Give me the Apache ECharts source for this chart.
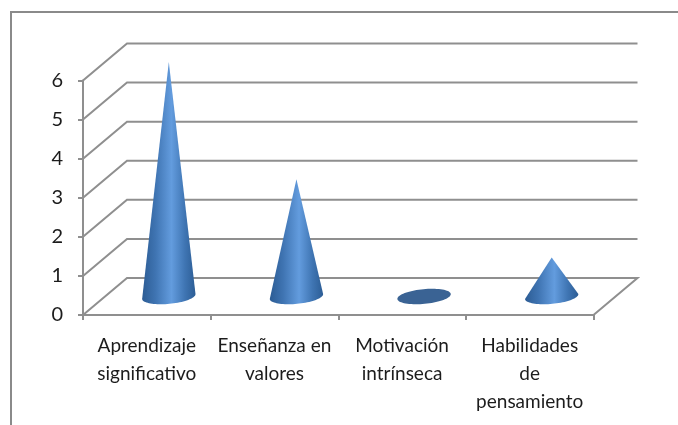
<!DOCTYPE html>
<html>
<head>
<meta charset="utf-8">
<style>html,body{margin:0;padding:0;background:#fff}#c{width:678px;height:425px}</style>
<script src="https://cdn.jsdelivr.net/npm/echarts@6/dist/echarts.min.js"></script>
</head>
<body>
<div id="c"></div>
<script>
const categories = ["Aprendizaje\nsignificativo", "Enseñanza en\nvalores", "Motivación\nintrínseca", "Habilidades\nde\npensamiento"];
const values = [6, 3, 0, 1];
const yTicks = [0, 1, 2, 3, 4, 5, 6];

const depthX = 44, depthY = 37;
const lineGray = "#8f8f8f";
const tilt = 5.4 * Math.PI / 180;
const coneFill = {
  type: "linear", x: 0, y: 0, x2: 1, y2: 0,
  colorStops: [
    { offset: 0, color: "#2c5c94" },
    { offset: 0.25, color: "#3f74b2" },
    { offset: 0.55, color: "#639cde" },
    { offset: 0.8, color: "#3f75b3" },
    { offset: 1, color: "#2c5d95" }
  ]
};

function ellipsePoint(cx, cy, a, b, t) {
  return [
    cx + a * Math.cos(t) * Math.cos(tilt) + b * Math.sin(t) * Math.sin(tilt),
    cy - a * Math.cos(t) * Math.sin(tilt) + b * Math.sin(t) * Math.cos(tilt)
  ];
}

function renderWall(params, api) {
  const g = params.coordSys;
  const y = api.coord([0, api.value(1)])[1];
  const left = g.x, right = g.x + g.width;
  const points = api.value(1) === 0
    ? [[left, y], [left + depthX, y - depthY], [right + depthX, y - depthY], [right, y]]
    : [[left, y], [left + depthX, y - depthY], [right + depthX, y - depthY]];
  return {
    type: "polyline",
    shape: { points: points },
    style: { fill: "none", stroke: lineGray, lineWidth: 2 }
  };
}

function renderCone(params, api) {
  const base = api.coord([api.value(0), 0]);
  const top = api.coord([api.value(0), api.value(1)]);
  const band = api.size([1, 0])[0];
  const cx = base[0] + depthX / 2, cy = base[1] - depthY / 2;
  const a = band * 0.21, b = a * 0.275;
  const pts = [];
  if (api.value(1) === 0) {
    for (let i = 0; i < 72; i++) pts.push(ellipsePoint(cx, cy, a, b, i / 72 * 2 * Math.PI));
    return { type: "polygon", shape: { points: pts }, style: { fill: "#3a6394" } };
  }
  for (let i = 0; i <= 40; i++) pts.push(ellipsePoint(cx, cy, a, b, i / 40 * Math.PI));
  pts.push([cx, top[1] - depthY / 2]);
  return { type: "polygon", shape: { points: pts }, style: { fill: coneFill } };
}

const chart = echarts.init(document.getElementById("c"), null, { renderer: "canvas" });
chart.setOption({
  animation: false,
  backgroundColor: "#ffffff",
  textStyle: { fontFamily: "Lato" },
  graphic: [{
    type: "polyline",
    silent: true,
    shape: { points: [[11, 425], [11, 12], [678, 12]] },
    style: { fill: "none", stroke: "#8a8a8a", lineWidth: 2 }
  }],
  grid: { left: 83, right: 84.5, top: 80.5, bottom: 110, containLabel: false },
  xAxis: {
    type: "category",
    data: categories,
    axisLine: { show: true, lineStyle: { color: lineGray, width: 2 } },
    axisTick: { show: true, length: 5, alignWithLabel: false, lineStyle: { color: lineGray, width: 2 } },
    axisLabel: { interval: 0, color: "#1c1c1c", fontSize: 19, fontFamily: "Lato", lineHeight: 28, margin: 17, hideOverlap: false },
    splitLine: { show: false }
  },
  yAxis: {
    type: "value",
    min: 0,
    max: 6,
    interval: 1,
    axisLine: { show: true, lineStyle: { color: lineGray, width: 2 } },
    axisTick: { show: true, length: 5, lineStyle: { color: lineGray, width: 2 } },
    axisLabel: { color: "#1c1c1c", fontSize: 20, fontFamily: "Lato", margin: 20, padding: [3, 0, 0, 0] },
    splitLine: { show: false }
  },
  series: [
    {
      type: "custom", name: "walls", z: 1, silent: true,
      renderItem: renderWall,
      encode: { x: 0, y: 1 },
      data: yTicks.map(t => [0, t])
    },
    {
      type: "custom", name: "valores", z: 3,
      renderItem: renderCone,
      encode: { x: 0, y: 1 },
      data: values.map((v, i) => [i, v])
    }
  ]
});
</script>
</body>
</html>
